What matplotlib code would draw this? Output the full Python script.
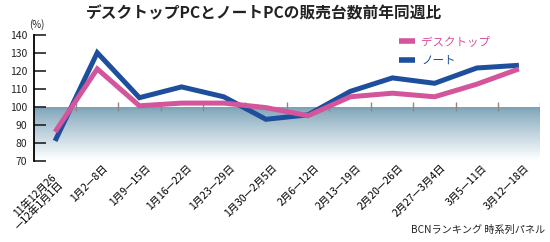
import numpy as np
import matplotlib
matplotlib.use("Agg")
import matplotlib.pyplot as plt
from matplotlib.colors import LinearSegmentedColormap
from matplotlib.transforms import ScaledTranslation

plt.rcParams['font.family'] = ['Noto Sans CJK JP', 'DejaVu Sans']

categories = ["11年12月26\n—12年1月1日", "1月2—8日", "1月9—15日", "1月16—22日",
              "1月23—29日", "1月30—2月5日", "2月6—12日", "2月13—19日",
              "2月20—26日", "2月27—3月4日", "3月5—11日", "3月12—18日"]
desktop = [86, 121, 100.5, 102, 102, 99.5, 95, 105.5, 107.5, 105.5, 112.5, 121]
notebook = [81, 130, 105, 111, 105.5, 93, 95.5, 108.5, 116, 113, 121.5, 123]
yticks = [70, 80, 90, 100, 110, 120, 130, 140]

BLUE = "#1d4f9c"
PINK = "#d3559b"

fig = plt.figure(figsize=(5.5, 2.42), dpi=100)
ax = fig.add_axes([34/550, 1-160.7/242, (540-34)/550, (160.7-34.7)/242])

x = np.arange(len(categories))
ax.set_xlim(-0.5, len(categories)-0.5)
ax.set_ylim(70, 140)

# gradient band below 100
cmap = LinearSegmentedColormap.from_list("g", [(0, "#7ca1b3"), (0.08, "#8badbf"), (0.35, "#afc7d4"),
                                               (0.7, "#dbe6ed"), (0.92, "#f7fafc"), (1, "#ffffff")])
grad = np.linspace(0, 1, 256).reshape(-1, 1)
ax.imshow(grad, cmap=cmap, extent=[-0.5, len(categories)-0.5, 70, 100], aspect='auto', origin='upper', zorder=0)

# small ticks on the 100 line
ax.vlines(np.arange(len(categories)) + 0.5, 97.8, 102.5, color="#8a8a8a", lw=1.0, zorder=1)

ax.plot(x, notebook, color=BLUE, lw=3.6, solid_joinstyle='miter', solid_capstyle='butt', zorder=3, label="ノート")
ax.plot(x, desktop, color=PINK, lw=3.6, solid_joinstyle='miter', solid_capstyle='butt', zorder=4, label="デスクトップ")

for s in ['top', 'right', 'bottom']:
    ax.spines[s].set_visible(False)
ax.spines['left'].set_linewidth(1.3)

ax.set_yticks(yticks)
ax.set_yticklabels([str(v) for v in yticks])
ax.tick_params(axis='y', direction='in', length=8.6, width=1.2, pad=5, labelsize=7.5, colors='#222222')
ax.set_xticks(x)
ax.set_xticklabels(categories, rotation=45, ha='right', va='center', rotation_mode='anchor', fontsize=7.5, linespacing=1.05)
ax.tick_params(axis='x', length=0, pad=4)
for i, lab in enumerate(ax.get_xticklabels()):
    if i == 0:
        off = ScaledTranslation(3/100, -13/100, fig.dpi_scale_trans)
    else:
        off = ScaledTranslation(9/100, 0, fig.dpi_scale_trans)
    lab.set_transform(lab.get_transform() + off)

handles, labels = ax.get_legend_handles_labels()
leg = ax.legend(handles[::-1], labels[::-1], loc='upper left', bbox_to_anchor=(399/550, 1-35/242),
                bbox_transform=fig.transFigure, frameon=False, fontsize=8.3, handlelength=1.4,
                handletextpad=0.5, labelspacing=0.5, borderpad=0, borderaxespad=0)
for h in leg.get_lines():
    h.set_linewidth(4)
for t, c in zip(leg.get_texts(), [PINK, BLUE]):
    t.set_color(c)

fig.text(264/550, 1-13/242, "デスクトップPCとノートPCの販売台数前年同週比", ha='center', va='center',
         fontsize=11.3, fontweight='bold', color='#222222')
fig.text(37/550, 1-25/242, "(%)", ha='center', va='center', fontsize=7, color='#222222')
fig.text(545/550, 1-230/242, "BCNランキング 時系列パネル", ha='right', va='center', fontsize=7.3, color='#222222')

fig.savefig("out.png", dpi=100)
